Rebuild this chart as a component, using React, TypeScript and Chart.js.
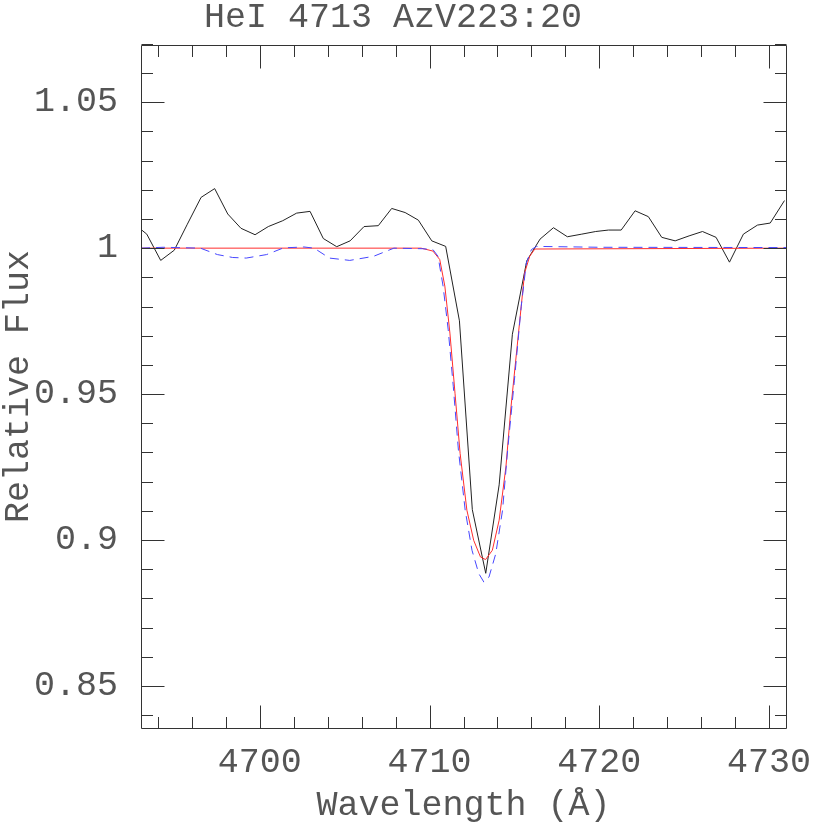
import React, { useEffect, useRef } from "react";
import { Chart, registerables } from "chart.js";

Chart.register(...registerables);

// ---- Data ----
const obsWave = [
  4692.55, 4693.34, 4694.16, 4694.96, 4695.73, 4696.54, 4697.34, 4698.11, 4698.89, 4699.72,
  4700.5, 4701.35, 4702.17, 4702.96, 4703.74, 4704.53, 4705.32, 4706.14, 4706.98, 4707.77,
  4708.56, 4709.34, 4710.13, 4710.95, 4711.76, 4712.52, 4713.31, 4714.1, 4714.88, 4715.73,
  4716.51, 4717.3, 4718.12, 4718.97, 4719.79, 4720.54, 4721.29, 4722.11, 4722.89, 4723.68,
  4724.47, 4725.29, 4726.08, 4726.88, 4727.67, 4728.49, 4729.32, 4730.07, 4730.91,
];
const obsFlux = [
  1.0085, 1.0048, 0.9958, 0.9993, 1.0082, 1.0174, 1.0204, 1.0117, 1.0068, 1.0046,
  1.0074, 1.0094, 1.012, 1.0126, 1.0033, 1.0005, 1.0025, 1.0074, 1.0077, 1.0136,
  1.0122, 1.0096, 1.0025, 1.0006, 0.9751, 0.9104, 0.8886, 0.9189, 0.9705, 0.9957,
  1.0031, 1.007, 1.0039, 1.0048, 1.0057, 1.0062, 1.0062, 1.0128, 1.0108, 1.0037,
  1.0025, 1.0042, 1.0057, 1.0037, 0.9952, 1.0048, 1.0079, 1.0086, 1.0163,
];

const fitWave = [
  4693.0, 4709.5, 4710.2, 4710.6, 4710.9, 4711.2, 4711.5, 4711.8, 4712.2, 4712.6,
  4713.0, 4713.3, 4713.7, 4714.1, 4714.5, 4714.8, 4715.2, 4715.6, 4715.9, 4716.2, 4731.0,
];
const fitFlux = [
  1.0, 1.0, 0.999, 0.9961, 0.987, 0.9709, 0.9503, 0.9297, 0.9102, 0.8999,
  0.8942, 0.8933, 0.8965, 0.9068, 0.9251, 0.9457, 0.9686, 0.9915, 0.9972, 0.9997, 1.0,
];

const modelWave = [
  4693.0, 4694.3, 4696.5, 4697.5, 4698.4, 4699.2, 4700.4, 4701.4, 4702.6, 4703.2,
  4704.1, 4705.3, 4706.7, 4707.9, 4709.6, 4710.2, 4710.5, 4710.8, 4711.1, 4711.4,
  4711.7, 4712.1, 4712.5, 4712.9, 4713.2, 4713.5, 4713.9, 4714.3, 4714.6, 4715.0,
  4715.4, 4715.7, 4716.0, 4716.3, 4720.0, 4731.0,
];
const modelFlux = [
  1.0, 1.0003, 1.0, 0.9978, 0.9968, 0.9966, 0.9978, 1.0001, 1.0004, 1.0,
  0.9966, 0.9958, 0.9972, 1.0, 0.9998, 0.9995, 0.9972, 0.9869, 0.972, 0.9525,
  0.9308, 0.9102, 0.8965, 0.8885, 0.8856, 0.8873, 0.8953, 0.9102, 0.9308, 0.9548,
  0.98, 0.9949, 0.9995, 1.0006, 1.0003, 1.0002,
];

const xTickValues = [4700, 4710, 4720, 4730];
const yTickValues = [0.85, 0.9, 0.95, 1, 1.05];

const chartTitle = "HeI 4713 AzV223:20";
const xTitle = "Wavelength (\u00C5)";
const yTitle = "Relative Flux";

const X_MIN = 4693;
const X_MAX = 4731;
const Y_MIN = 0.8356;
const Y_MAX = 1.0696;

const FONT = "'Liberation Mono', 'DejaVu Sans Mono', monospace";
const TEXT_COLOR = "#555";
const AXIS_COLOR = "#333";

const toPoints = (xs: number[], ys: number[]) => xs.map((x, i) => ({ x, y: ys[i] }));

const frameTicksPlugin = {
  id: "frameTicks",
  afterDatasetsDraw(chart: any) {
    const { ctx, chartArea, scales } = chart;
    const { left, right, top, bottom } = chartArea;
    const xs = scales.x;
    const ys = scales.y;
    const L = Math.round(left) + 0.5;
    const R = Math.round(right) + 0.5;
    const T = Math.round(top) + 0.5;
    const B = Math.round(bottom) + 0.5;
    ctx.save();
    ctx.strokeStyle = AXIS_COLOR;
    ctx.lineWidth = 1;
    ctx.beginPath();
    ctx.rect(L, T, R - L, B - T);
    ctx.stroke();
    const major = 23;
    const minor = 11.5;
    ctx.beginPath();
    for (let i = 4694; i <= 4730; i += 2) {
      const px = Math.round(xs.getPixelForValue(i)) + 0.5;
      const len = i % 10 === 0 ? major : minor;
      ctx.moveTo(px, B);
      ctx.lineTo(px, B - len);
      ctx.moveTo(px, T);
      ctx.lineTo(px, T + len);
    }
    for (let k = 84; k <= 107; k++) {
      const py = Math.round(ys.getPixelForValue(k / 100)) + 0.5;
      const len = k % 5 === 0 ? major : minor;
      ctx.moveTo(L, py);
      ctx.lineTo(L + len, py);
      ctx.moveTo(R, py);
      ctx.lineTo(R - len, py);
    }
    ctx.stroke();
    ctx.restore();
  },
};

export default function App() {
  const canvasRef = useRef<HTMLCanvasElement | null>(null);

  useEffect(() => {
    const canvas = canvasRef.current;
    if (!canvas) return;
    const chart = new Chart(canvas, {
      type: "line",
      data: {
        datasets: [
          {
            label: "model",
            data: toPoints(modelWave, modelFlux),
            borderColor: "rgb(70,70,255)",
            borderWidth: 1,
            borderDash: [9, 6],
            pointRadius: 0,
            tension: 0,
            order: 0,
          },
          {
            label: "fit",
            data: toPoints(fitWave, fitFlux),
            borderColor: "rgb(255,45,45)",
            borderWidth: 1,
            pointRadius: 0,
            tension: 0,
            order: 1,
          },
          {
            label: "observed",
            data: toPoints(obsWave, obsFlux),
            borderColor: "#222",
            borderWidth: 1,
            pointRadius: 0,
            tension: 0,
            order: 2,
          },
        ],
      },
      options: {
        animation: false,
        responsive: false,
        layout: { padding: { left: 0, right: 44, top: 0, bottom: 0 } },
        plugins: {
          legend: { display: false },
          tooltip: { enabled: false },
          title: {
            display: true,
            text: chartTitle,
            color: TEXT_COLOR,
            font: { family: FONT, size: 35, weight: "normal", lineHeight: 1.0 },
            padding: { top: 0, bottom: 10 },
          },
        },
        scales: {
          x: {
            type: "linear",
            min: X_MIN,
            max: X_MAX,
            grid: { display: false, drawTicks: false },
            border: { display: false },
            afterBuildTicks: (scale: any) => {
              scale.ticks = xTickValues.map((v) => ({ value: v }));
            },
            afterFit: (scale: any) => {
              scale.height = 102;
            },
            ticks: {
              autoSkip: false,
              maxRotation: 0,
              padding: 14,
              color: TEXT_COLOR,
              font: { family: FONT, size: 35, lineHeight: 1.2 },
              callback: (v: any) => String(v),
            },
            title: {
              display: true,
              text: xTitle,
              color: TEXT_COLOR,
              font: { family: FONT, size: 35, lineHeight: 1.2 },
              padding: { top: 0, bottom: 3 },
            },
          },
          y: {
            type: "linear",
            min: Y_MIN,
            max: Y_MAX,
            grid: { display: false, drawTicks: false },
            border: { display: false },
            afterBuildTicks: (scale: any) => {
              scale.ticks = yTickValues.map((v) => ({ value: v }));
            },
            afterFit: (scale: any) => {
              scale.width = 141;
            },
            ticks: {
              autoSkip: false,
              padding: 23,
              color: TEXT_COLOR,
              font: { family: FONT, size: 35, lineHeight: 1.2 },
              callback: (v: any) => String(v),
            },
            title: {
              display: true,
              text: yTitle,
              color: TEXT_COLOR,
              font: { family: FONT, size: 35, lineHeight: 1.0 },
              padding: { top: 1, bottom: 0 },
            },
          },
        },
      },
      plugins: [frameTicksPlugin],
    } as any);
    return () => chart.destroy();
  }, []);

  return (
    <div style={{ position: "absolute", left: 0, top: 0, width: 830, height: 830, background: "#fff" }}>
      <canvas ref={canvasRef} width={830} height={830} style={{ display: "block" }} />
    </div>
  );
}
